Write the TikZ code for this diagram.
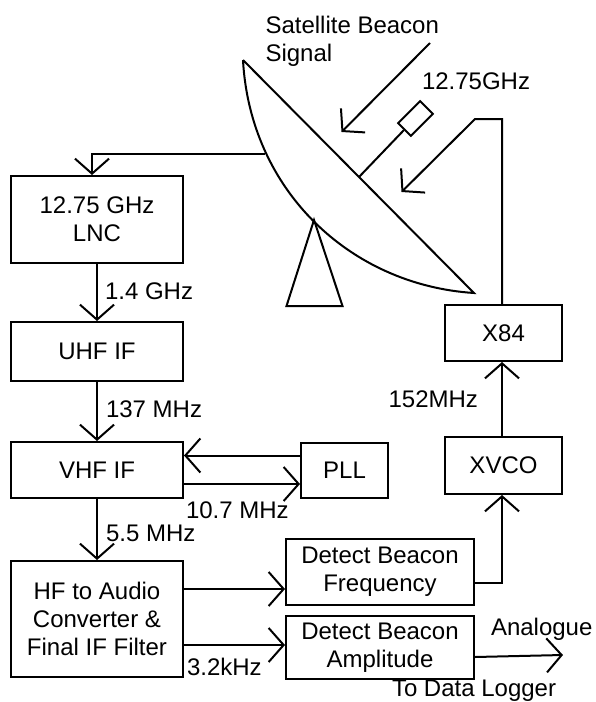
\documentclass[tikz,border=0pt]{standalone}
\usepackage{fontspec}
\setmainfont{Liberation Sans}
\usetikzlibrary{arrows.meta,positioning}

\begin{document}
\begin{tikzpicture}[x=1pt, y=-1pt, line width=2pt,
    font=\fontsize{24}{28}\selectfont,
    arr/.style={-{Straight Barb[length=15pt,width=34pt]}},
    block/.style={draw, rectangle, align=center, inner sep=0pt},
    lbl/.style={inner sep=0pt}]
    \useasboundingbox (0,0) rectangle (595,702);

    % Dish
    \coordinate (rimtop) at (243,60);
    \coordinate (rimbot) at (474,293);
    \coordinate (dishback) at (264.5,154);
    \coordinate (armbase) at (359,177);
    \draw (rimtop) -- (rimbot) .. controls (350,285) and (250,190) .. (rimtop);
    \draw (314,220) -- (286.5,306) -- (342.5,306) -- cycle;
    \node[draw, rectangle, minimum width=31pt, minimum height=18pt, rotate=45, inner sep=0pt] (feed) at (415.5,118.5) {};
    \draw (armbase) -- (feed.west);

    % Blocks
    \node[block, minimum width=172pt, minimum height=87pt] (lnc) at (97,219.5) {12.75 GHz\\LNC};
    \node[block, minimum width=172pt, minimum height=59pt, below=57pt of lnc] (uhf) {UHF IF};
    \node[block, minimum width=172pt, minimum height=56pt, below=59pt of uhf] (vhf) {VHF IF};
    \node[block, minimum width=172pt, minimum height=116pt, below=61pt of vhf] (hfconv) {HF to Audio\\Converter \&\\Final IF Filter};
    \node[block, minimum width=87pt, minimum height=55pt, right=116pt of vhf] (pll) {PLL};
    \node[block, minimum width=188pt, minimum height=66pt] (detfreq) at (380,572) {Detect Beacon\\Frequency};
    \node[block, minimum width=188pt, minimum height=63pt, below=9pt of detfreq] (detamp) {Detect Beacon\\Amplitude};
    \node[block, minimum width=117pt, minimum height=57pt] (xvco) at (503.5,465.5) {XVCO};
    \node[block, minimum width=117pt, minimum height=56pt, above=74pt of xvco] (x84) {X84};

    % Free labels
    \node[lbl, anchor=north west, align=left] (beacon) at (264.5,15.5) {Satellite Beacon\\Signal};
    \node[lbl, anchor=base west] (rxfreq) at (421,89) {12.75GHz};
    \coordinate (beaconstart) at (430,43);
    \coordinate (beaconend) at (341.5,132);
    \coordinate (lobend) at (475,119);
    \coordinate (lotip) at (401.5,192);
    \coordinate (logger) at (563,655);

    % Connections
    \draw[arr] (beaconstart) -- (beaconend);
    \draw[arr] (dishback) -| ([xshift=-5pt]lnc.north);
    \draw[arr] (lnc) -- node[lbl, right, xshift=7pt, yshift=1pt] (f1) {1.4 GHz} (uhf);
    \draw[arr] (uhf) -- node[lbl, right, xshift=8pt, yshift=2pt] (f2) {137 MHz} (vhf);
    \draw[arr] (vhf) -- node[lbl, right, xshift=8pt, yshift=-4pt] (f3) {5.5 MHz} (hfconv);
    \draw[arr] ([yshift=14.5pt]pll.west) -- ([yshift=14.5pt]pll.west -| vhf.east);
    \draw[arr] ([yshift=-14pt]vhf.east) -- node[lbl, pos=0, anchor=north west, yshift=-17pt, xshift=1pt] (f4) {10.7 MHz} ([yshift=-14pt]vhf.east -| pll.west);
    \draw[arr] ([yshift=30pt]hfconv.east) -- ([yshift=30pt]hfconv.east -| detfreq.west);
    \draw[arr] ([yshift=-26pt]hfconv.east) -- node[lbl, pos=0, anchor=north west, yshift=-12.5pt, xshift=2pt] (f5) {3.2kHz} ([yshift=-26pt]hfconv.east -| detamp.west);
    \draw[arr] ([yshift=-11pt]detfreq.east) -| ([xshift=-1.5pt]xvco.south);
    \draw[arr] ([xshift=-1.5pt]xvco.north) -- node[lbl, left, xshift=-23pt] (f6) {152MHz} ([xshift=-1.5pt]x84.south);
    \draw[arr] ([xshift=-1.5pt]x84.north) |- (lobend) -- (lotip);
    \draw[arr] ([yshift=-9.5pt]detamp.east) -- (logger);
    \node[lbl, anchor=base west] (analogue) at (490,635) {Analogue};
    \node[lbl, anchor=base west] (todata) at (391,696) {To Data Logger};
\end{tikzpicture}
\end{document}
